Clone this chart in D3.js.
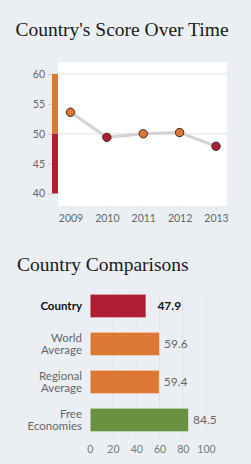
<!DOCTYPE html>
<html>
<head>
<meta charset="utf-8">
<script src="https://cdn.jsdelivr.net/npm/d3@7"></script>
<style>
  body { margin: 0; background: #ebeff3; }
  svg { display: block; }
</style>
</head>
<body>
<svg id="chart" width="251" height="464"></svg>
<script>
// score over time
const years = [2009, 2010, 2011, 2012, 2013];
const scores = [53.6, 49.4, 50.0, 50.2, 47.9];
const yTicks = [40, 45, 50, 55, 60];

// comparisons
const compLabels = [["Country"], ["World", "Average"], ["Regional", "Average"], ["Free", "Economies"]];
const compValues = [47.9, 59.6, 59.4, 84.5];
const compColors = ["#b01e33", "#dc7834", "#dc7834", "#6a9140"];
const xTicks = [0, 20, 40, 60, 80, 100];

const orange = "#dc7834", red = "#b01e33";
const sans = "Lato, 'Open Sans', sans-serif";
const serif = "'Liberation Serif', 'DejaVu Serif', serif";

const svg = d3.select("#chart");

// ---- top chart
svg.append("text")
  .attr("x", 122).attr("y", 36)
  .attr("text-anchor", "middle")
  .attr("font-family", serif)
  .attr("font-size", 19.5)
  .attr("fill", "#1a1a1a")
  .text("Country's Score Over Time");

svg.append("rect")
  .attr("x", 58).attr("y", 62).attr("width", 169).attr("height", 144)
  .attr("fill", "#fff");

const y = d3.scaleLinear().domain([40, 60]).range([193.5, 74]);
const x = d3.scalePoint().domain(years).range([70.5, 216]);

// gridlines at 50 and 60
svg.selectAll(".grid").data([50, 60]).enter().append("line")
  .attr("x1", 58).attr("x2", 227)
  .attr("y1", d => y(d)).attr("y2", d => y(d))
  .attr("stroke", "#ececec").attr("stroke-width", 1.5);

// colour bar
svg.append("rect").attr("x", 52).attr("width", 6)
  .attr("y", y(60)).attr("height", y(50) - y(60)).attr("fill", orange);
svg.append("rect").attr("x", 52).attr("width", 6)
  .attr("y", y(50)).attr("height", y(40) - y(50)).attr("fill", red);

const yAxis = svg.append("g")
  .attr("transform", "translate(52,0)")
  .call(d3.axisLeft(y).tickValues(yTicks).tickSize(4).tickPadding(3));
yAxis.select(".domain").remove();
yAxis.selectAll("line").attr("stroke", "#ccc");
yAxis.selectAll("text").attr("font-family", sans).attr("font-size", 10.5).attr("fill", "#666");

const xAxis = svg.append("g")
  .attr("transform", "translate(0,206)")
  .call(d3.axisBottom(x).tickSize(4).tickPadding(5).tickFormat(d3.format("d")));
xAxis.select(".domain").remove();
xAxis.selectAll("line").attr("stroke", "#ddd");
xAxis.selectAll("text").attr("font-family", sans).attr("font-size", 10.5).attr("fill", "#666");

const pts = years.map((yr, i) => ({ yr, v: scores[i] }));
svg.append("path").datum(pts)
  .attr("d", d3.line().x(d => x(d.yr)).y(d => y(d.v)))
  .attr("fill", "none").attr("stroke", "#d3d3d3").attr("stroke-width", 3);

svg.selectAll(".pt").data(pts).enter().append("circle")
  .attr("cx", d => x(d.yr)).attr("cy", d => y(d.v)).attr("r", 4.2)
  .attr("fill", d => d.v >= 50 ? orange : red)
  .attr("stroke", "#3a2a20").attr("stroke-width", 1);

// ---- bottom chart
svg.append("text")
  .attr("x", 17).attr("y", 271)
  .attr("font-family", serif)
  .attr("font-size", 19.5)
  .attr("fill", "#1a1a1a")
  .text("Country Comparisons");

const bx = d3.scaleLinear().domain([0, 100]).range([89.7, 206]);
const by = d3.scaleBand().domain(d3.range(compValues.length))
  .range([294.3, 431.6]).paddingInner(0.387).paddingOuter(0);

svg.selectAll(".vgrid").data(xTicks.slice(1)).enter().append("line")
  .attr("x1", d => bx(d)).attr("x2", d => bx(d))
  .attr("y1", 293).attr("y2", 437)
  .attr("stroke", "#dfe3e7").attr("stroke-width", 1);

svg.selectAll(".bar").data(compValues).enter().append("rect")
  .attr("x", bx(0) + 0.5)
  .attr("y", (d, i) => by(i))
  .attr("width", d => bx(d) - bx(0))
  .attr("height", by.bandwidth())
  .attr("fill", (d, i) => compColors[i])
  .attr("stroke", "rgba(255,255,255,0.45)").attr("stroke-width", 1);

svg.selectAll(".val").data(compValues).enter().append("text")
  .attr("x", d => bx(d) + (d === compValues[0] ? 12 : 5))
  .attr("y", (d, i) => by(i) + by.bandwidth() / 2 + 4)
  .attr("font-family", sans)
  .attr("font-size", 12)
  .attr("font-weight", (d, i) => i === 0 ? "bold" : "normal")
  .attr("fill", (d, i) => i === 0 ? "#111" : "#666")
  .text(d => d3.format(".1f")(d));

const lab = svg.selectAll(".lab").data(compLabels).enter().append("text")
  .attr("text-anchor", "end")
  .attr("font-family", sans)
  .attr("font-size", 11.5)
  .attr("font-weight", (d, i) => i === 0 ? "bold" : "normal")
  .attr("fill", (d, i) => i === 0 ? "#111" : "#666");
lab.each(function (d, i) {
  const cy = by(i) + by.bandwidth() / 2;
  const t = d3.select(this);
  d.forEach((line, j) => {
    t.append("tspan")
      .attr("x", 82)
      .attr("y", cy + 4 + (j - (d.length - 1) / 2) * 12.7)
      .text(line);
  });
});

const bAxis = svg.append("g")
  .attr("transform", "translate(0,437)")
  .call(d3.axisBottom(bx).tickValues(xTicks).tickSize(0).tickPadding(9));
bAxis.select(".domain").remove();
bAxis.selectAll("text").attr("font-family", sans).attr("font-size", 10.5).attr("fill", "#777");
</script>
</body>
</html>
